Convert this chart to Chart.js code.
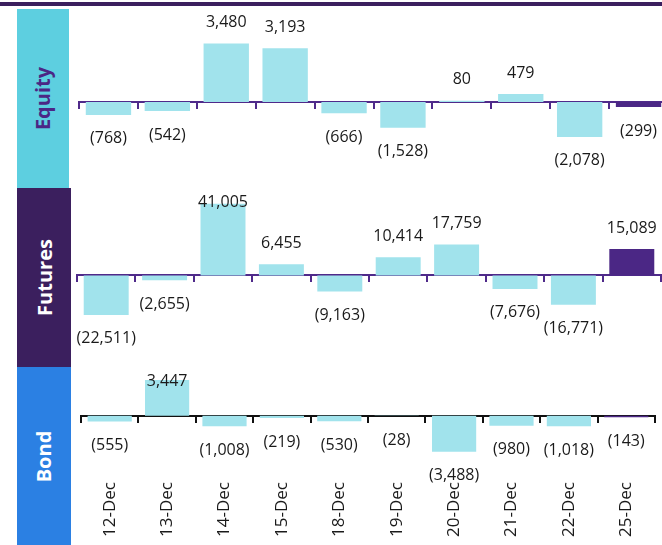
<!DOCTYPE html>
<html>
<head>
<meta charset="utf-8">
<script src="https://cdn.jsdelivr.net/npm/chart.js@4"></script>
<style>
  html, body { margin:0; padding:0; background:#fff; width:662px; height:545px; overflow:hidden; position:relative; font-family:"Open Sans", sans-serif; }
  .topline { position:absolute; left:0; top:2px; width:662px; height:4px; background:#3b1f5e; }
  .side { position:absolute; left:17px; width:54px; display:flex; align-items:center; justify-content:center; }
  .side span { display:block; transform:rotate(-90deg); white-space:nowrap; font-weight:700; font-size:20px; font-family:"Open Sans", sans-serif; }
  canvas { position:absolute; }
</style>
</head>
<body>
<div class="topline"></div>
<div class="side" style="top:9px;height:179px;background:#5dcfe0;width:52px;"><span style="color:#4b2785">Equity</span></div>
<div class="side" style="top:188px;height:179px;background:#3b1f5e;"><span style="color:#fff">Futures</span></div>
<div class="side" style="top:367px;height:178px;background:#2b80e3;"><span style="color:#fff">Bond</span></div>
<canvas id="eq" style="left:78px;top:8px;" width="592" height="180"></canvas>
<canvas id="fu" style="left:76px;top:188px;" width="587" height="179"></canvas>
<canvas id="bo" style="left:80px;top:367px;" width="577" height="178"></canvas>
<script>
const categories = ["12-Dec","13-Dec","14-Dec","15-Dec","18-Dec","19-Dec","20-Dec","21-Dec","22-Dec","25-Dec"];
const equity  = [-768, -542, 3480, 3193, -666, -1528, 80, 479, -2078, -299];
const futures = [-22511, -2655, 41005, 6455, -9163, 10414, 17759, -7676, -16771, 15089];
const bond    = [-555, 3447, -1008, -219, -530, -28, -3488, -980, -1018, -143];

const CYAN = "#a1e3ec";
const PURPLE = "#4b2785";
const FONT = "'Open Sans', sans-serif";

function fmt(v) {
  const s = Math.abs(v).toLocaleString("en-US");
  return v < 0 ? "(" + s + ")" : s;
}

const labelPlugin = {
  id: "barLabels",
  afterDatasetsDraw(chart) {
    const ctx = chart.ctx;
    const meta = chart.getDatasetMeta(0);
    const data = chart.data.datasets[0].data;
    ctx.save();
    ctx.font = "16px " + FONT;
    ctx.fillStyle = "#1a1a1a";
    ctx.textAlign = "center";
    ctx.textBaseline = "middle";
    meta.data.forEach((bar, i) => {
      const v = data[i];
      let y;
      if (v >= 0) {
        y = Math.max(bar.y - 21, chart.chartArea.top + 14);
      } else {
        y = bar.y + 24;
      }
      ctx.fillText(fmt(v), bar.x, y);
    });
    ctx.restore();
  }
};

function makeChart(id, values, yMin, yMax, axisColor, withLabels) {
  const scales = {
    x: {
      type: "category",
      offset: true,
      position: { y: 0 },
      grid: { offset: true, drawOnChartArea: false, drawTicks: true, tickLength: 6, color: axisColor, lineWidth: 2 },
      border: { display: true, color: axisColor, width: 2 },
      ticks: { display: false }
    },
    y: { display: false, min: yMin, max: yMax }
  };
  if (withLabels) {
    scales.x2 = {
      type: "category",
      labels: categories,
      offset: true,
      position: "bottom",
      grid: { display: false, drawTicks: false },
      border: { display: false },
      ticks: { maxRotation: 90, minRotation: 90, padding: 10, color: "#1a1a1a", font: { family: FONT, size: 17 } },
      afterFit: (s) => { s.height = 73; }
    };
  }
  return new Chart(document.getElementById(id), {
    type: "bar",
    data: {
      labels: categories,
      datasets: [{
        data: values,
        xAxisID: "x",
        backgroundColor: values.map((v, i) => i === values.length - 1 ? PURPLE : CYAN),
        borderWidth: 0,
        barPercentage: 0.77,
        categoryPercentage: 1
      }]
    },
    options: {
      responsive: false,
      animation: false,
      layout: { padding: { left: 1, right: 2, top: 0, bottom: 0 } },
      plugins: { legend: { display: false }, tooltip: { enabled: false } },
      scales: scales
    },
    plugins: [labelPlugin]
  });
}

makeChart("eq", equity, -5119, 5595, "#4f2a8a", false);
makeChart("fu", futures, -52286, 50000, "#4f2a8a", false);
makeChart("bo", bond, -5434, 4700, "#111111", true);
</script>
</body>
</html>
